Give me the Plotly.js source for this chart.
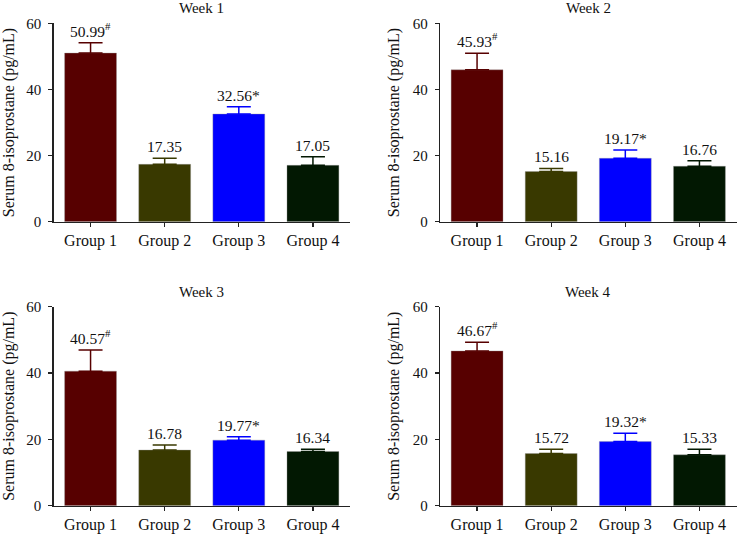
<!DOCTYPE html>
<html>
<head>
<meta charset="utf-8">
<script src="https://cdn.plot.ly/plotly-3.0.1.min.js"></script>
<style>html,body{margin:0;padding:0;background:#fff;}</style>
</head>
<body>
<div id="chart" style="width:737px;height:534px;"></div>
<script>
const groups = ['Group 1', 'Group 2', 'Group 3', 'Group 4'];
const weeks = ['Week 1', 'Week 2', 'Week 3', 'Week 4'];
const week1Values = [50.99, 17.35, 32.56, 17.05];
const week2Values = [45.93, 15.16, 19.17, 16.76];
const week3Values = [40.57, 16.78, 19.77, 16.34];
const week4Values = [46.67, 15.72, 19.32, 15.33];
const week1Errors = [3.1, 1.85, 2.2, 2.6];
const week2Errors = [5.0, 0.95, 2.5, 1.7];
const week3Errors = [6.4, 1.5, 1.0, 0.7];
const week4Errors = [2.6, 1.3, 2.5, 1.7];
const significance = ['#', '', '*', ''];
const groupColors = ['#570000', '#393900', '#0000ff', '#021802'];
const yTitle = 'Serum 8-isoprostane (pg/mL)';

const allValues = [week1Values, week2Values, week3Values, week4Values];
const allErrors = [week1Errors, week2Errors, week3Errors, week4Errors];
const FONT = '"Liberation Serif", "Times New Roman", serif';

const traces = [];
const annotations = [];
allValues.forEach((vals, w) => {
  const sfx = w === 0 ? '' : String(w + 1);
  groups.forEach((g, i) => {
    traces.push({
      type: 'bar',
      x: [g], y: [vals[i]],
      xaxis: 'x' + sfx, yaxis: 'y' + sfx,
      width: 0.7,
      marker: {color: groupColors[i], line: {color: 'rgba(150,150,150,0.6)', width: 0.6}},
      error_y: {type: 'data', symmetric: false, array: [allErrors[w][i]], arrayminus: [0],
                color: groupColors[i], thickness: 1.5, width: 12},
      showlegend: false, hoverinfo: 'skip'
    });
    const mark = significance[i] === '#' ? '<sup>#</sup>' : significance[i];
    annotations.push({
      xref: 'x' + sfx, yref: 'y' + sfx,
      x: g, y: vals[i] + allErrors[w][i],
      text: vals[i].toFixed(2) + mark,
      showarrow: false, yanchor: 'bottom', yshift: 1,
      font: {family: FONT, size: 15.5, color: '#111'}
    });
  });
  annotations.push({
    xref: 'x' + sfx + ' domain', yref: 'y' + sfx + ' domain',
    x: 0.5, y: 1, yanchor: 'bottom', yshift: 5,
    text: weeks[w], showarrow: false,
    font: {family: FONT, size: 15, color: '#111'}
  });
});

const xDomL = [53.5 / 737, 350 / 737];
const xDomR = [440 / 737, 736.5 / 737];
const yDomT = [(534 - 221.7) / 534, (534 - 23.3) / 534];
const yDomB = [(534 - 505.7) / 534, (534 - 306.7) / 534];

function xAx(dom, anchor) {
  return {
    domain: dom, anchor: anchor, type: 'category', range: [-0.5, 3.5],
    showline: true, linecolor: '#222', linewidth: 1.3,
    ticks: 'outside', ticklen: 4, tickcolor: '#222', tickwidth: 1.3,
    showgrid: false, zeroline: false, fixedrange: true,
    tickfont: {family: FONT, size: 16, color: '#111'}
  };
}
function yAx(dom, anchor) {
  return {
    domain: dom, anchor: anchor, range: [0, 60], tickvals: [0, 20, 40, 60],
    showline: true, linecolor: '#222', linewidth: 1.3,
    ticks: 'outside', ticklen: 4, tickcolor: '#222', tickwidth: 1.3,
    ticklabelstandoff: 4,
    showgrid: false, zeroline: false, fixedrange: true,
    tickfont: {family: FONT, size: 15, color: '#111'},
    title: {text: yTitle, font: {family: FONT, size: 16, color: '#111'}, standoff: 9}
  };
}

const layout = {
  width: 737, height: 534,
  margin: {l: 0, r: 0, t: 0, b: 0},
  paper_bgcolor: '#fff', plot_bgcolor: '#fff',
  barmode: 'overlay',
  font: {family: FONT, color: '#111'},
  xaxis: xAx(xDomL, 'y'), yaxis: yAx(yDomT, 'x'),
  xaxis2: xAx(xDomR, 'y2'), yaxis2: yAx(yDomT, 'x2'),
  xaxis3: xAx(xDomL, 'y3'), yaxis3: yAx(yDomB, 'x3'),
  xaxis4: xAx(xDomR, 'y4'), yaxis4: yAx(yDomB, 'x4'),
  annotations: annotations
};

Plotly.newPlot('chart', traces, layout, {displayModeBar: false, staticPlot: true});
</script>
</body>
</html>
